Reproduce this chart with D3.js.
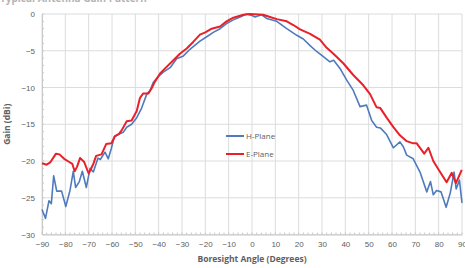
<!DOCTYPE html>
<html>
<head>
<meta charset="utf-8">
<script src="https://cdn.jsdelivr.net/npm/d3@7"></script>
<style>
  body { margin: 0; background: #fff; }
  svg { display: block; font-family: "Open Sans", "Liberation Sans", sans-serif; }
</style>
</head>
<body>
<div id="chart"></div>
<script>
// H-Plane (blue)
var hAngles = [-90, -88.5, -87, -86, -85, -83.7, -81.6, -79.8, -78, -76.6, -75.6, -74, -72.7, -71, -69.4, -68, -66, -65, -63, -61.6,
  -60.3, -59, -57.3, -55.2, -53.7, -51.6, -49.4, -47.3, -45.1, -43.7, -42.3, -40.1, -38, -35.1, -32.3, -29.4, -26.6, -22.3, -19.4, -16.6,
  -13.7, -10.9, -8, -5.1, -2.3, 0, 1.3, 4.1, 6.3, 10.6, 14.9, 19.2, 22, 24.9, 27.7, 30.6, 33.4, 35, 37.7, 40.6,
  43.4, 46.3, 49.1, 51.3, 53.4, 55, 57.7, 60.6, 63.4, 64.9, 66.3, 69.1, 72, 74.9, 76.5, 77.7, 79.1, 81, 83.2, 85,
  86.6, 87.5, 88.9, 90];
var hGain = [-26.6, -27.8, -25.4, -25.8, -22.0, -24.1, -24.1, -26.2, -24.0, -21.4, -23.6, -22.8, -21.4, -23.6, -21.0, -21.5, -19.6, -19.8, -18.8, -19.7,
  -18.3, -16.7, -16.4, -16.1, -15.4, -15.0, -14.1, -12.8, -10.9, -10.4, -9.3, -8.5, -7.9, -7.3, -6.1, -5.7, -4.8, -3.7, -3.1, -2.5,
  -2.0, -1.3, -0.8, -0.4, 0, -0.2, -0.4, -0.1, -0.6, -1.0, -2.0, -2.9, -3.4, -4.3, -5.1, -5.8, -6.5, -6.3, -7.4, -9.0,
  -10.4, -12.6, -12.4, -14.5, -15.4, -15.5, -16.4, -18.2, -17.4, -18.1, -19.2, -19.7, -21.5, -24.2, -22.8, -24.6, -24.0, -24.2, -26.3, -24.3,
  -21.5, -23.8, -22.6, -25.7];

// E-Plane (red)
var eAngles = [-90, -88, -86.5, -84, -82.5, -80.5, -78.5, -77, -76, -75, -73.7, -72, -70, -68, -66.8, -64.5, -62.5, -60.3, -58.7, -57,
  -55.8, -53.7, -51.6, -49.4, -48, -46.6, -44.4, -43, -41.6, -39.4, -36.6, -33.7, -30.9, -28, -25.2, -22.3, -20, -17.3, -13.7, -10.9,
  -8, -3.7, -1, 4.8, 7.7, 10.6, 14.9, 17.7, 20.6, 24.9, 29.1, 32, 34.9, 39.1, 43.4, 47.7, 50.6, 53.4, 55, 57.7,
  60.6, 63.4, 66.3, 69.1, 70.6, 73.8, 75.6, 77.7, 80, 83.4, 85.6, 87.4, 89.9];
var eGain = [-20.3, -20.5, -20.2, -19.0, -19.1, -19.7, -20.1, -20.4, -21.4, -20.8, -19.6, -20.1, -21.7, -20.4, -19.3, -19.1, -17.7, -17.6, -16.6, -16.3,
  -15.8, -14.6, -14.5, -13.2, -11.4, -10.8, -10.8, -10.1, -9.2, -8.1, -7.2, -6.3, -5.4, -4.7, -3.8, -2.8, -2.5, -2.0, -1.7, -1.0,
  -0.5, -0.1, 0, -0.1, -0.4, -0.7, -1.0, -1.5, -2.1, -2.7, -3.5, -4.6, -5.4, -6.7, -8.3, -9.7, -10.9, -12.7, -12.8, -14.1,
  -15.4, -16.5, -17.3, -17.6, -17.6, -19.0, -18.2, -20.0, -21.2, -22.9, -21.6, -23.0, -21.2];

var xTicks = [-90, -80, -70, -60, -50, -40, -30, -20, -10, 0, 10, 20, 30, 40, 50, 60, 70, 80, 90];
var yTicks = [0, -5, -10, -15, -20, -25, -30];
var seriesNames = ["H-Plane", "E-Plane"];
var seriesColors = ["#4f7bbd", "#e8202a"];

var W = 465, H = 268;
var margin = {left: 42, right: 3, top: 14, bottom: 33.5};

var svg = d3.select("#chart").append("svg").attr("width", W).attr("height", H);

var x = d3.scaleLinear().domain([-90, 90]).range([margin.left, W - margin.right]);
var y = d3.scaleLinear().domain([-30, 0]).range([H - margin.bottom, margin.top]);

// title, mostly cut off by the top edge in the source picture
svg.append("text").attr("x", 0).attr("y", 1.5).style("font-size", "10px").style("font-weight", "bold")
  .style("fill", "#b4b4b4").text("Typical Antenna Gain Pattern");

// grid
svg.append("g").selectAll("line").data(yTicks).enter().append("line")
  .attr("x1", x(-90)).attr("x2", x(90))
  .attr("y1", function (d) { return y(d); }).attr("y2", function (d) { return y(d); })
  .style("stroke", "#dcdcdc").style("stroke-width", 1);
svg.append("g").selectAll("line").data(xTicks).enter().append("line")
  .attr("x1", function (d) { return x(d); }).attr("x2", function (d) { return x(d); })
  .attr("y1", y(0)).attr("y2", y(-30))
  .style("stroke", "#dcdcdc").style("stroke-width", 1);

// axes
var xAxis = svg.append("g").attr("transform", "translate(0," + y(-30) + ")")
  .call(d3.axisBottom(x).tickValues(xTicks).tickSize(0).tickPadding(7));
var yAxis = svg.append("g").attr("transform", "translate(" + x(-90) + ",0)")
  .call(d3.axisLeft(y).tickValues(yTicks).tickSize(0).tickPadding(7).tickFormat(d3.format("d")));
[xAxis, yAxis].forEach(function (a) {
  a.select(".domain").style("stroke", "#c8c8c8");
  a.selectAll("text").style("fill", "#606060").style("font-size", "8px");
});

// little minor ticks on the axes
svg.append("g").selectAll("line").data(d3.range(-90, 91, 2)).enter().append("line")
  .attr("x1", function (d) { return x(d); }).attr("x2", function (d) { return x(d); })
  .attr("y1", y(-30)).attr("y2", y(-30) - 2).style("stroke", "#c8c8c8");
svg.append("g").selectAll("line").data(d3.range(-30, 0.1, 1)).enter().append("line")
  .attr("x1", x(-90)).attr("x2", x(-90) + 2)
  .attr("y1", function (d) { return y(d); }).attr("y2", function (d) { return y(d); }).style("stroke", "#c8c8c8");

svg.append("text").attr("x", (x(-90) + x(90)) / 2).attr("y", 262).attr("text-anchor", "middle")
  .style("font-size", "8.5px").style("font-weight", "bold").style("fill", "#606060")
  .text("Boresight Angle (Degrees)");
svg.append("text").attr("transform", "translate(10," + y(-15) + ") rotate(-90)").attr("text-anchor", "middle")
  .style("font-size", "8.5px").style("font-weight", "bold").style("fill", "#606060")
  .text("Gain (dBi)");

// series lines
var line = d3.line().x(function (d) { return x(d[0]); }).y(function (d) { return y(d[1]); });
var hData = d3.zip(hAngles, hGain), eData = d3.zip(eAngles, eGain);
svg.append("path").datum(hData).attr("d", line).style("fill", "none")
  .style("stroke", seriesColors[0]).style("stroke-width", 1.6).style("stroke-linejoin", "round");
svg.append("path").datum(eData).attr("d", line).style("fill", "none")
  .style("stroke", seriesColors[1]).style("stroke-width", 2).style("stroke-linejoin", "round");

// legend
var leg = svg.append("g").selectAll("g").data(seriesNames).enter().append("g")
  .attr("transform", function (d, i) { return "translate(226," + (136 + i * 18) + ")"; });
leg.append("line").attr("x1", 0).attr("x2", 18).attr("y1", 0).attr("y2", 0)
  .style("stroke", function (d, i) { return seriesColors[i]; }).style("stroke-width", 2);
leg.append("text").attr("x", 20).attr("y", 3).style("font-size", "8px").style("fill", "#606060")
  .text(function (d) { return d; });
</script>
</body>
</html>
